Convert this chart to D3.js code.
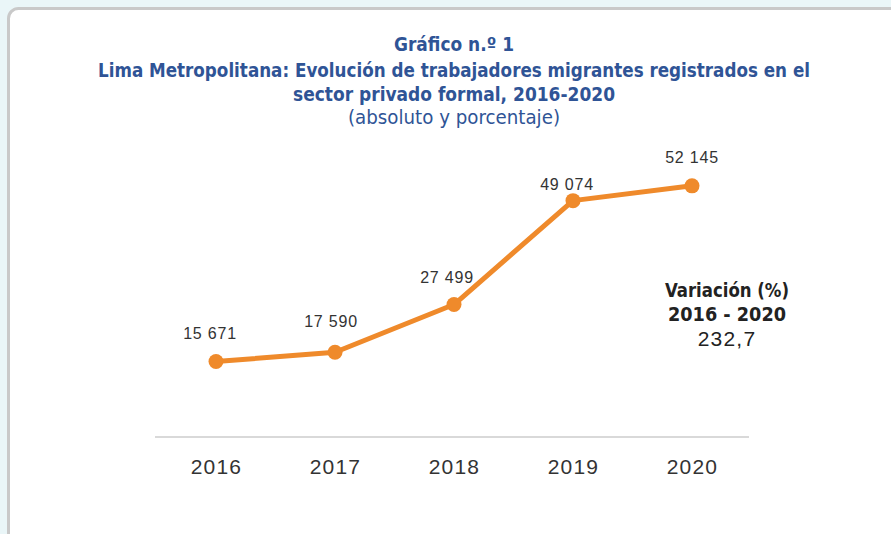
<!DOCTYPE html>
<html><head><meta charset="utf-8">
<script src="https://cdn.jsdelivr.net/npm/d3@7"></script>
<style>
html,body{margin:0;padding:0;background:#eaf6f8;}
svg{display:block;}
</style></head>
<body>
<svg id="chart" width="891" height="534"></svg>
<script>
const years = ["2016","2017","2018","2019","2020"];
const workers = [15671, 17590, 27499, 49074, 52145];
const valueLabels = ["15 671","17 590","27 499","49 074","52 145"];
const titleLines = ["Gráfico n.º 1",
  "Lima Metropolitana: Evolución de trabajadores migrantes registrados en el",
  "sector privado formal, 2016-2020"];
const subtitle = "(absoluto y porcentaje)";
const variationLines = ["Variación (%)", "2016 - 2020"];
const variationValue = "232,7";

// label placement (style, not data)
const labelShift = [[-6,-23],[-4,-25],[-7,-22],[-6,-11],[0,-23]];

const svg = d3.select("#chart");
const W = 891, H = 534;

// card
svg.append("rect").attr("x",8.5).attr("y",8.5).attr("width",W+20).attr("height",H+20)
  .attr("rx",10).attr("fill","#fff").attr("stroke","#c9c9c9").attr("stroke-width",3);

const narrow = "'Liberation Sans Narrow','DejaVu Sans Condensed','Roboto Condensed',sans-serif";
const sans = "'Liberation Sans','DejaVu Sans',sans-serif";
const blue = "#2f5496";

const tY = [51, 77, 101];
const tW = [120, 712, 322];
titleLines.forEach((t,i)=>{
  svg.append("text").attr("x",454).attr("y",tY[i]).attr("text-anchor","middle")
    .attr("font-family",narrow).attr("font-weight","bold").attr("font-size",19)
    .attr("fill",blue).attr("textLength",tW[i]).attr("lengthAdjust","spacingAndGlyphs").text(t);
});
svg.append("text").attr("x",454).attr("y",124).attr("text-anchor","middle")
  .attr("font-family",narrow).attr("font-size",19).attr("fill",blue)
  .attr("textLength",212).attr("lengthAdjust","spacingAndGlyphs").text(subtitle);

const x = d3.scalePoint().domain(years).range([216, 692]);
const y = d3.scaleLinear().domain([0, 60000]).range([437, 148]);

// axis baseline
const xAxis = d3.axisBottom(x).tickSize(0).tickPadding(0);
const gx = svg.append("g").attr("transform","translate(0,437)").call(xAxis);
gx.select(".domain").remove();
gx.append("line").attr("x1",155).attr("x2",749).attr("y1",0).attr("y2",0)
  .attr("stroke","#d9d9d9").attr("stroke-width",2);
gx.selectAll(".tick text").attr("dy",0).attr("y",37)
  .attr("font-family",sans).attr("font-size",21).attr("letter-spacing",1.2)
  .attr("fill","#333");

const orange = "#ef8a2b";
const line = d3.line().x((d,i)=>x(years[i])).y(d=>y(d));
svg.append("path").datum(workers).attr("d",line).attr("fill","none")
  .attr("stroke",orange).attr("stroke-width",5).attr("stroke-linejoin","round");

svg.selectAll("circle.pt").data(workers).join("circle").attr("class","pt")
  .attr("cx",(d,i)=>x(years[i])).attr("cy",d=>y(d)).attr("r",7.5).attr("fill",orange);

svg.selectAll("text.lbl").data(workers).join("text").attr("class","lbl")
  .attr("x",(d,i)=>x(years[i])+labelShift[i][0]).attr("y",(d,i)=>y(d)+labelShift[i][1])
  .attr("text-anchor","middle").attr("font-family",sans)
  .attr("font-size",16).attr("letter-spacing",0.8).attr("fill","#333").text((d,i)=>valueLabels[i]);

variationLines.forEach((t,i)=>{
  svg.append("text").attr("x",727).attr("y",297+i*24).attr("text-anchor","middle")
    .attr("font-family",narrow).attr("font-weight","bold").attr("font-size",20)
    .attr("fill","#222").attr("textLength",i===0?124:118).attr("lengthAdjust","spacingAndGlyphs").text(t);
});
svg.append("text").attr("x",727).attr("y",346).attr("text-anchor","middle")
  .attr("font-family",sans).attr("font-size",21).attr("letter-spacing",1.2)
  .attr("fill","#222").text(variationValue);
</script>
</body></html>
